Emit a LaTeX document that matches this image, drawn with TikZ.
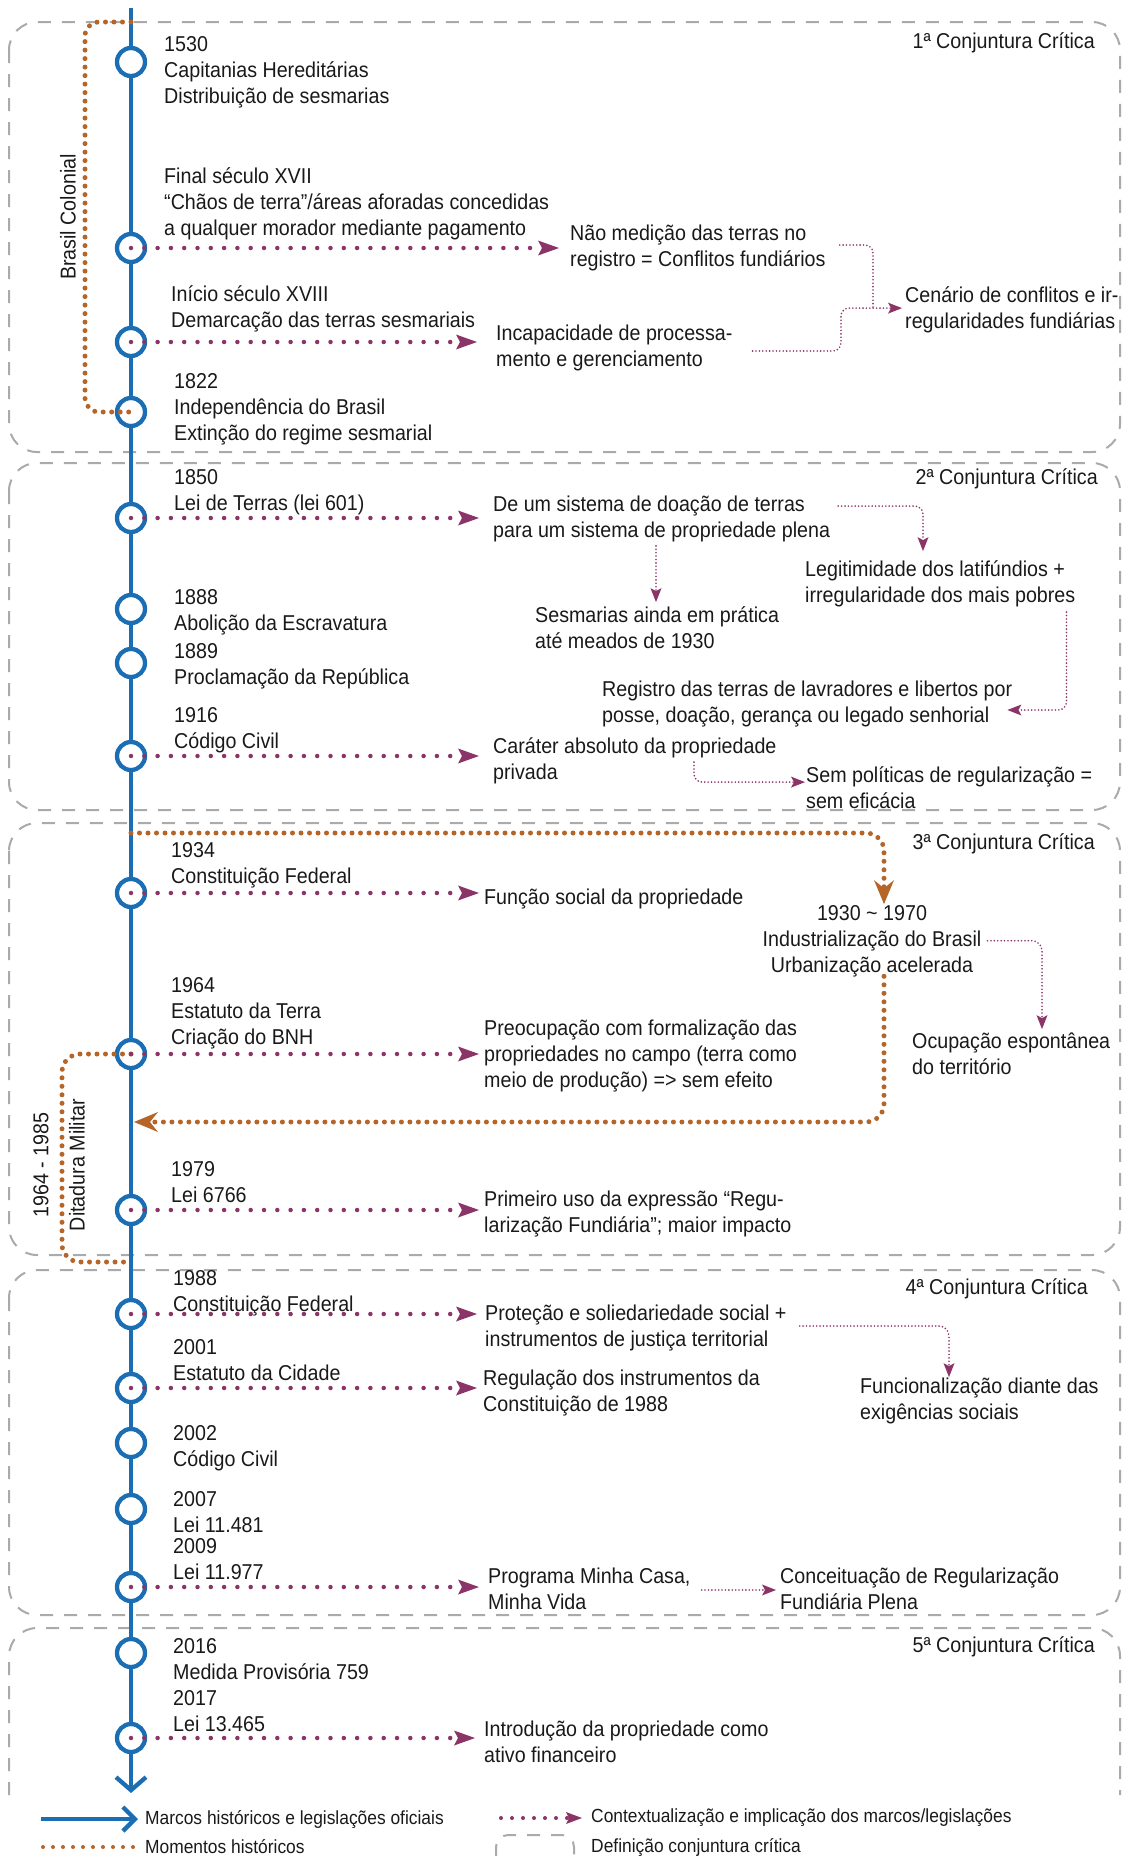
\documentclass[tikz,border=0pt]{standalone}
\usepackage{fontspec}
\setmainfont{Liberation Sans}[FakeStretch=0.915]
\usepackage{xcolor}
\usepackage{tikz}
\usetikzlibrary{arrows.meta}
\usetikzlibrary{calc}
\usetikzlibrary{positioning}

\definecolor{marcoblue}{RGB}{27,110,180}
\definecolor{implicpurple}{RGB}{139,52,104}
\definecolor{momentbrown}{RGB}{181,101,40}
\definecolor{critgray}{RGB}{170,170,170}

\begin{document}
\begin{tikzpicture}[x=1pt,y=-1pt,
  timeline/.style={draw=marcoblue, line width=4.3pt, -{Straight Barb[length=13pt,width=30pt]}},
  marco/.style={circle, draw=marcoblue, line width=4.3pt, fill=white, minimum size=28pt, inner sep=0pt},
  implic/.style={draw=implicpurple, line width=4.5pt, line cap=round, dash pattern=on 0pt off 13.3pt, -{Stealth[length=21pt,width=15pt,inset=4pt,line width=0pt]}},
  link/.style={draw=implicpurple, line width=1.8pt, line cap=round, dash pattern=on 0pt off 3.4pt, rounded corners=8pt},
  linktip/.style={-{Stealth[length=14pt,width=11pt,inset=3pt,line width=0pt]}},
  moment/.style={draw=momentbrown, line width=5pt, line cap=round, dash pattern=on 0pt off 8.5pt},
  momenttip/.style={-{Stealth[length=24pt,width=20pt,inset=8pt,line width=0pt]}},
  crit/.style={draw=critgray, line width=2pt, dash pattern=on 13pt off 11pt, rounded corners=28pt},
  txt/.style={anchor=north west, inner sep=0pt, yshift=-4pt, align=left, text=black!90, font=\fontsize{21.5}{26}\selectfont, execute at begin node=\strut, execute at end node=\strut},
  ttl/.style={anchor=base east, inner sep=0pt, text=black!90, font=\fontsize{21.5}{26}\selectfont},
  side/.style={rotate=90, inner sep=0pt, text=black!90, font=\fontsize{21.5}{26}\selectfont},
  legtxt/.style={anchor=west, inner sep=0pt, text=black!90, font=\fontsize{19}{22}\selectfont}]

  \useasboundingbox (0,0) rectangle (1123,1856);

  % the five critical conjunctures
  \foreach \t/\b in {22/452,463/810,823/1255,1270/1615}
    \draw[crit] (9,\t) rectangle (1120,\b);
  \draw[crit] (9,1795) -- (9,1628) -- (1120,1628) -- (1120,1795); % runs off the page

  \node[ttl] (cc1) at (1095,48) {1ª Conjuntura Crítica};
  \node[ttl] (cc2) at (1098,484) {2ª Conjuntura Crítica};
  \node[ttl] (cc3) at (1095,849) {3ª Conjuntura Crítica};
  \node[ttl] (cc4) at (1088,1294) {4ª Conjuntura Crítica};
  \node[ttl] (cc5) at (1095,1652) {5ª Conjuntura Crítica};

  % the time line
  \coordinate (tlTop) at (131,8);
  \coordinate (tlEnd) at (131,1793);
  \draw[timeline] (tlTop) -- (tlEnd);

  % setup the milestones
  \foreach \n/\y in {1530/62,xvii/248,xviii/342,1822/412,1850/518,1888/609,1889/663,1916/756,
                     1934/893,1964/1054,1979/1210,1988/1314,2001/1388,2002/1443,2007/1509,
                     2009/1587,2016/1653,2017/1738}
    \node[marco] (c\n) at (131,\y) {};

  % milestone texts
  \node[txt] (t1530) at (164,32.1) {1530\\Capitanias Hereditárias\\Distribuição de sesmarias};
  \node[txt] (txvii) at (164,163.1) {Final século XVII\\“Chãos de terra”/áreas aforadas concedidas\\a qualquer morador mediante pagamento};
  \node[txt] (txviii) at (171,281.1) {Início século XVIII\\Demarcação das terras sesmariais};
  \node[txt] (t1822) at (174,369.1) {1822\\Independência do Brasil\\Extinção do regime sesmarial};
  \node[txt] (t1850) at (174,465.1) {1850\\Lei de Terras (lei 601)};
  \node[txt] (t1888) at (174,585.1) {1888\\Abolição da Escravatura};
  \node[txt] (t1889) at (174,639.1) {1889\\Proclamação da República};
  \node[txt] (t1916) at (174,703.1) {1916\\Código Civil};
  \node[txt] (t1934) at (171,838.1) {1934\\Constituição Federal};
  \node[txt] (t1964) at (171,973.1) {1964\\Estatuto da Terra\\Criação do BNH};
  \node[txt] (t1979) at (171,1157.1) {1979\\Lei 6766};
  \node[txt] (t1988) at (173,1266.1) {1988\\Constituição Federal};
  \node[txt] (t2001) at (173,1335.1) {2001\\Estatuto da Cidade};
  \node[txt] (t2002) at (173,1421.1) {2002\\Código Civil};
  \node[txt] (t2007) at (173,1487.1) {2007\\Lei 11.481};
  \node[txt] (t2009) at (173,1534.1) {2009\\Lei 11.977};
  \node[txt] (t2016) at (173,1634.1) {2016\\Medida Provisória 759};
  \node[txt] (t2017) at (173,1686.1) {2017\\Lei 13.465};

  % implications
  \node[txt] (nao) at (570,221.1) {Não medição das terras no\\registro = Conflitos fundiários};
  \node[txt] (inc) at (496,321.1) {Incapacidade de processa-\\mento e gerenciamento};
  \node[txt] (cen) at (905,282.1) {Cenário de conflitos e ir-\\regularidades fundiárias};
  \node[txt] (desis) at (493,492.1) {De um sistema de doação de terras\\para um sistema de propriedade plena};
  \node[txt] (leg) at (805,556.1) {Legitimidade dos latifúndios +\\irregularidade dos mais pobres};
  \node[txt] (sesm) at (535,602.1) {Sesmarias ainda em prática\\até meados de 1930};
  \node[txt] (reg) at (602,677.1) {Registro das terras de lavradores e libertos por\\posse, doação, gerança ou legado senhorial};
  \node[txt] (car) at (493,733.1) {Caráter absoluto da propriedade\\privada};
  \node[txt] (sem) at (806,762.1) {Sem políticas de regularização =\\sem eficácia};
  \node[txt] (fsoc) at (484,882.1) {Função social da propriedade};
  \node[txt, anchor=north, align=center] (ind) at (872,901.1) {1930 \textasciitilde{} 1970\\Industrialização do Brasil\\Urbanização acelerada};
  \node[txt] (preoc) at (484,1016.1) {Preocupação com formalização das\\propriedades no campo (terra como\\meio de produção) => sem efeito};
  \node[txt] (ocu) at (912,1029.1) {Ocupação espontânea\\do território};
  \node[txt] (prim) at (484,1187.1) {Primeiro uso da expressão “Regu-\\larização Fundiária”; maior impacto};
  \node[txt] (prot) at (485,1301.1) {Proteção e soliedariedade social +\\instrumentos de justiça territorial};
  \node[txt] (funz) at (860,1374.1) {Funcionalização diante das\\exigências sociais};
  \node[txt] (regul) at (483,1366.1) {Regulação dos instrumentos  da\\Constituição de 1988};
  \node[txt] (prog) at (488,1564.1) {Programa Minha Casa,\\Minha Vida};
  \node[txt] (conc) at (780,1564.1) {Conceituação de Regularização\\Fundiária Plena};
  \node[txt] (intr) at (484,1717.1) {Introdução da propriedade como\\ativo financeiro};

  % historical moments
  \coordinate (colTop) at (131,22);
  \coordinate (colBot) at (85,412);
  \draw[moment, rounded corners=14pt] (colTop) -| (colBot) -- (c1822.center);
  \node[side] (colLbl) at (68,217) {Brasil Colonial};

  \coordinate (ditBot) at (62,1262);
  \coordinate (ditEnd) at (131,1262);
  \draw[moment, rounded corners=18pt] (c1964.center) -| (ditBot) -- (ditEnd);
  \node[side] (ditYrs) at (41,1165) {1964 - 1985};
  \node[side] (ditLbl) at (77,1165) {Ditadura Militar};

  \coordinate (indIn) at (131,833);
  \coordinate (indOut) at (134,1122);
  \draw[moment, momenttip, rounded corners=18pt] (indIn) -| ($(ind.north)+(12,-1)$);
  \draw[moment, momenttip, rounded corners=18pt] ($(ind.south)+(12,-4)$) |- (indOut);

  % milestone -> implication
  \foreach \src/\dst/\gap in {xvii/nao/11pt,xviii/inc/19pt,1850/desis/14pt,1916/car/14pt,
                              1934/fsoc/5pt,1964/preoc/5pt,1979/prim/5pt,1988/prot/8pt,
                              2001/regul/6pt,2009/prog/9pt,2017/intr/9pt}
    \draw[implic, shorten >=\gap] (c\src.center) -- (c\src.center -| \dst.west);

  % implication -> implication
  \draw[link] ($(nao.east)+(14,-5)$) -| ($(cen.west)+(-32,-3)$);
  \draw[link, linktip] ($(inc.east)+(20,1)$) -| ($(cen.west)+(-64,-3)$) -- ($(cen.west)+(-3,-3)$);
  \draw[link, linktip] ($(desis.north east)+(8,10)$) -| ($(leg.north west)+(118,-9)$);
  \draw[link, linktip] ($(desis.south west)+(163,0)$) -- ($(sesm.north west)+(121,-4)$);
  \draw[link, linktip] ($(leg.south east)+(-9,2)$) |- ($(reg.east)+(-5,4)$);
  \draw[link, linktip] ($(car.north west)+(201,25)$) |- ($(sem.north west)+(-1,16)$);
  \draw[link, linktip, rounded corners=10pt] ($(ind.east)+(6,-2)$) -| ($(ocu.north west)+(130,-4)$);
  \draw[link, linktip, rounded corners=10pt] ($(prot.east)+(13,-4)$) -| ($(funz.north west)+(89,-1)$);
  \draw[link, linktip] ($(prog.east)+(11,-3)$) -- ($(conc.west)+(-4,-3)$);

  % legend
  \node[legtxt] (lgMar) at (145,1819) {Marcos históricos e legislações oficiais};
  \node[legtxt] (lgMom) at (145,1847) {Momentos históricos};
  \node[legtxt] (lgCtx) at (591,1818) {Contextualização e implicação dos marcos/legislações};
  \node[legtxt] (lgDef) at (591,1847) {Definição conjuntura crítica};
  \draw[timeline, -{Straight Barb[length=12pt,width=24pt]}] ($(lgMar.west)+(-104,0)$) -- ($(lgMar.west)+(-7,0)$);
  \draw[moment, line width=4pt, dash pattern=on 0pt off 10pt] ($(lgMom.west)+(-102,0)$) -- ($(lgMom.west)+(-6,0)$);
  \draw[implic, line width=4pt, dash pattern=on 0pt off 11pt, -{Stealth[length=16pt,width=12pt,inset=3pt,line width=0pt]}]
    ($(lgCtx.west)+(-90,0)$) -- ($(lgCtx.west)+(-9,0)$);
  \draw[crit, rounded corners=12pt] ($(lgDef.west)+(-95,-12)$) rectangle ($(lgDef.west)+(-17,30)$);

\end{tikzpicture}
\end{document}
